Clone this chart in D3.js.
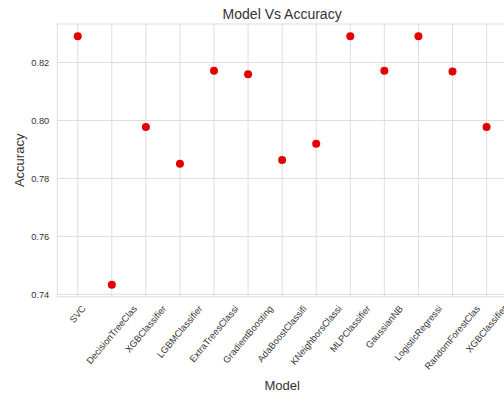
<!DOCTYPE html>
<html>
<head>
<meta charset="utf-8">
<script src="https://cdn.jsdelivr.net/npm/d3@7"></script>
<style>
  html, body { margin: 0; padding: 0; background: #fff; }
  svg { display: block; font-family: "Liberation Sans", Arial, sans-serif; }
</style>
</head>
<body>
<svg id="chart" width="504" height="397"></svg>
<script>
const models = ["SVC", "DecisionTreeClas", "XGBClassifier", "LGBMClassifier", "ExtraTreesClassi",
  "GradientBoosting", "AdaBoostClassifi", "KNeighborsClassi", "MLPClassifier", "GaussianNB",
  "LogisticRegressi", "RandomForestClas", "XGBClassifier"];
const accuracy = [0.8291, 0.7433, 0.7978, 0.7851, 0.8172, 0.8160, 0.7864, 0.7920, 0.8291, 0.8172, 0.8291, 0.8169, 0.7978];
const yTicks = [0.74, 0.76, 0.78, 0.80, 0.82];
const title = "Model Vs Accuracy";
const xLabel = "Model";
const yLabel = "Accuracy";

const svg = d3.select("#chart");
const pLeft = 57.3, pRight = 507, pTop = 24, pBottom = 296.7;
const textColor = "#333333", gridColor = "#dedede";

const x = d3.scaleLinear().domain([-0.6, models.length - 1 + 0.6]).range([pLeft, pRight]);
const y = d3.scaleLinear().domain([0.7392, 0.8333]).range([pBottom, pTop]);

// grid
const grid = svg.append("g");
grid.selectAll("line.h").data(yTicks).join("line")
  .attr("x1", pLeft).attr("x2", pRight)
  .attr("y1", d => y(d)).attr("y2", d => y(d))
  .attr("stroke", gridColor).attr("stroke-width", 1);
grid.selectAll("line.v").data(models.map((_, i) => i)).join("line")
  .attr("x1", d => x(d)).attr("x2", d => x(d))
  .attr("y1", pTop).attr("y2", pBottom)
  .attr("stroke", gridColor).attr("stroke-width", 1);
// frame
svg.append("rect").attr("x", pLeft).attr("y", pTop)
  .attr("width", pRight - pLeft).attr("height", pBottom - pTop)
  .attr("fill", "none").attr("stroke", gridColor).attr("stroke-width", 1);

// y axis labels
const yAxis = d3.axisLeft(y).tickValues(yTicks).tickFormat(d3.format(".2f")).tickSize(0).tickPadding(8);
const yg = svg.append("g").attr("transform", `translate(${pLeft},0)`).call(yAxis);
yg.select(".domain").remove();
yg.selectAll("text").attr("fill", textColor).style("font-size", "9.3px")
  .style("font-family", '"Liberation Sans", Arial, sans-serif');

// x axis labels (rotated)
const angle = 50;
const xg = svg.append("g");
models.forEach((m, i) => {
  const t = xg.append("text")
    .attr("fill", textColor)
    .style("font-size", "9.3px")
    .attr("text-anchor", "middle")
    .attr("dominant-baseline", "central")
    .text(m);
  const L = t.node().getComputedTextLength();
  const rad = angle * Math.PI / 180;
  const h = L * Math.sin(rad) + 9.3 * Math.cos(rad);
  const cy = 304 + h / 2;
  t.attr("transform", `translate(${x(i)},${cy}) rotate(${-angle})`);
});

// points
svg.append("g").selectAll("circle").data(accuracy).join("circle")
  .attr("cx", (d, i) => x(i))
  .attr("cy", d => y(d))
  .attr("r", 4)
  .attr("fill", "#e40000");

// title & axis labels
svg.append("text").attr("x", (pLeft + pRight) / 2).attr("y", 18.5)
  .attr("text-anchor", "middle").attr("fill", textColor)
  .style("font-size", "14px").text(title);
svg.append("text").attr("x", (pLeft + pRight) / 2).attr("y", 390)
  .attr("text-anchor", "middle").attr("fill", textColor)
  .style("font-size", "13px").text(xLabel);
svg.append("text")
  .attr("transform", `translate(24,${(pTop + pBottom) / 2}) rotate(-90)`)
  .attr("text-anchor", "middle").attr("fill", textColor)
  .style("font-size", "13px").text(yLabel);
</script>
</body>
</html>
